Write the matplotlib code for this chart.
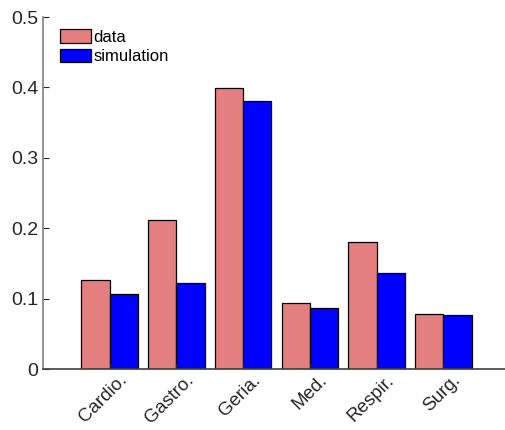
import matplotlib.pyplot as plt
import matplotlib.transforms as mtransforms
import numpy as np

plt.rcParams['font.family'] = ['Liberation Sans', 'DejaVu Sans']

wards = ['Cardio.', 'Gastro.', 'Geria.', 'Med.', 'Respir.', 'Surg.']
data_vals = [0.127, 0.211, 0.399, 0.094, 0.181, 0.078]
sim_vals = [0.106, 0.122, 0.381, 0.086, 0.137, 0.076]

x = np.arange(1, len(wards) + 1)
w = 0.425

fig = plt.figure(figsize=(5.06, 4.3), dpi=100)
ax = fig.add_axes([43 / 506, 61 / 430, 467 / 506, 352 / 430])

ax.bar(x - w / 2, data_vals, width=w, color='#E57F7F', edgecolor='black',
       linewidth=0.9, label='data')
ax.bar(x + w / 2, sim_vals, width=w, color='#0000FF', edgecolor='black',
       linewidth=0.9, label='simulation')

ax.set_xlim(0, 7)
ax.set_ylim(0, 0.5)
ax.set_yticks([0, 0.1, 0.2, 0.3, 0.4, 0.5])
ax.set_yticklabels(['0', '0.1', '0.2', '0.3', '0.4', '0.5'])
ax.set_xticks(x)
ax.set_xticklabels(wards, rotation=45, ha='right', rotation_mode='anchor')

for s in ['top', 'right']:
    ax.spines[s].set_visible(False)
ax.spines['left'].set_color('#808080')
ax.spines['bottom'].set_color('#404040')
ax.spines['left'].set_linewidth(1.2)
ax.spines['bottom'].set_linewidth(1.2)
ax.tick_params(direction='in', length=4, labelsize=14, colors='#262626',
               width=0.8)
ax.tick_params(axis='x', pad=4, labelsize=13.5)

# shift rotated labels a bit to the right, like the original
offset = mtransforms.ScaledTranslation(9 / 100, 3 / 100, fig.dpi_scale_trans)
for lab in ax.get_xticklabels():
    lab.set_transform(lab.get_transform() + offset)

ax.legend(loc='upper left', bbox_to_anchor=(0.036, 0.965), frameon=False,
          fontsize=12, handlelength=1.86, handleheight=0.84,
          handletextpad=0.15, labelspacing=0.25, borderpad=0, borderaxespad=0)

fig.savefig('out.png', dpi=100)
